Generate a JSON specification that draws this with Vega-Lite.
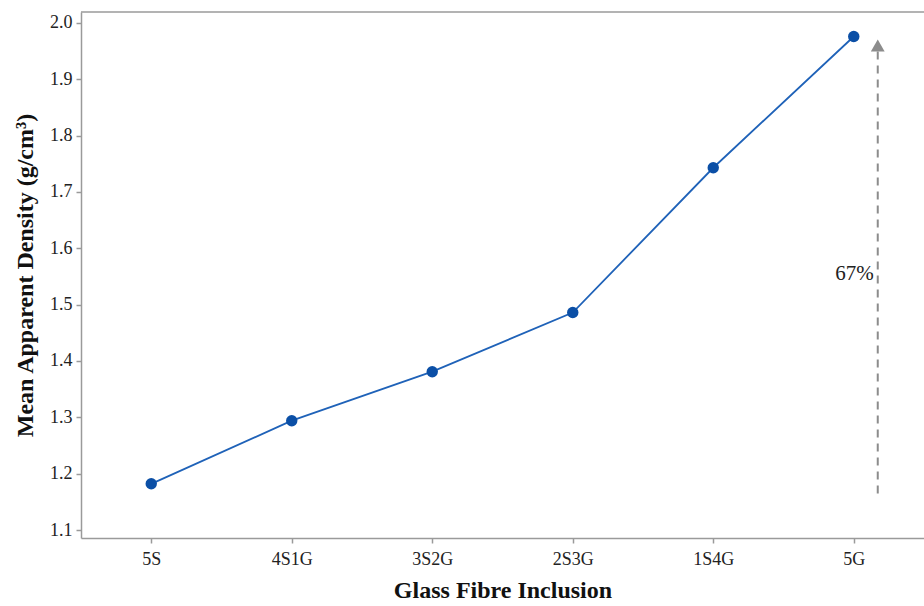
{
  "$schema": "https://vega.github.io/schema/vega-lite/v6.json",
  "width": 843,
  "height": 526,
  "autosize": {"type": "none"},
  "padding": {"left": 81, "top": 12, "right": 0, "bottom": 68},
  "background": "white",
  "config": {
    "view": {"stroke": null},
    "font": "Liberation Serif"
  },
  "datasets": {
    "main": [
      {"mix": "5S", "density": 1.182},
      {"mix": "4S1G", "density": 1.294},
      {"mix": "3S2G", "density": 1.381},
      {"mix": "2S3G", "density": 1.486},
      {"mix": "1S4G", "density": 1.743},
      {"mix": "5G", "density": 1.976}
    ],
    "arrow": [
      {"mix": "5G", "y0": 1.165, "y1": 1.95}
    ],
    "head": [
      {"mix": "5G", "y": 1.96}
    ],
    "label": [
      {"mix": "5G", "y": 1.555, "text": "67%"}
    ],
    "frame": [
      {"top": 2.0195}
    ]
  },
  "layer": [
    {
      "data": {"name": "frame"},
      "mark": {"type": "rule", "color": "#9a9a9a", "strokeWidth": 1.5},
      "encoding": {
        "y": {"field": "top", "type": "quantitative"}
      }
    },
    {
      "data": {"name": "main"},
      "mark": {"type": "line", "color": "#1f62b8", "strokeWidth": 1.8},
      "encoding": {
        "x": {
          "field": "mix", "type": "ordinal", "sort": null,
          "scale": {"type": "point", "padding": 0.5},
          "axis": {
            "title": "Glass Fibre Inclusion",
            "titleFont": "Liberation Serif", "titleFontSize": 24, "titleFontWeight": "bold", "titleColor": "#111",
            "titlePadding": 10,
            "labelFont": "Liberation Serif", "labelFontSize": 18, "labelColor": "#222", "labelPadding": 7,
            "labelAngle": 0,
            "domainColor": "#9a9a9a", "domainWidth": 1.5,
            "tickColor": "#9a9a9a", "tickSize": 5, "tickWidth": 1.5,
            "grid": false
          }
        },
        "y": {
          "field": "density", "type": "quantitative",
          "scale": {"domain": [1.0858, 2.0195], "nice": false, "zero": false},
          "axis": {
            "title": "Mean Apparent Density (g/cm³)",
            "values": [1.1, 1.2, 1.3, 1.4, 1.5, 1.6, 1.7, 1.8, 1.9, 2.0],
            "format": ".1f",
            "titleFont": "Liberation Serif", "titleFontSize": 24, "titleFontWeight": "bold", "titleColor": "#111",
            "titlePadding": 12,
            "labelFont": "Liberation Serif", "labelFontSize": 18, "labelColor": "#222", "labelPadding": 4,
            "domainColor": "#9a9a9a", "domainWidth": 1.5,
            "tickColor": "#9a9a9a", "tickSize": 5, "tickWidth": 1.5,
            "grid": false
          }
        }
      }
    },
    {
      "data": {"name": "main"},
      "mark": {"type": "point", "filled": true, "color": "#0b4fa6", "size": 130, "opacity": 1},
      "encoding": {
        "x": {"field": "mix", "type": "ordinal", "sort": null},
        "y": {"field": "density", "type": "quantitative"}
      }
    },
    {
      "data": {"name": "arrow"},
      "mark": {"type": "rule", "color": "#8c8c8c", "strokeWidth": 2, "strokeDash": [8, 6], "xOffset": 24},
      "encoding": {
        "x": {"field": "mix", "type": "ordinal", "sort": null},
        "y": {"field": "y0", "type": "quantitative"},
        "y2": {"field": "y1"}
      }
    },
    {
      "data": {"name": "head"},
      "mark": {"type": "point", "shape": "triangle-up", "filled": true, "color": "#8c8c8c", "size": 190, "opacity": 1, "xOffset": 24},
      "encoding": {
        "x": {"field": "mix", "type": "ordinal", "sort": null},
        "y": {"field": "y", "type": "quantitative"}
      }
    },
    {
      "data": {"name": "label"},
      "mark": {"type": "text", "align": "right", "baseline": "middle", "font": "Liberation Serif", "fontSize": 21, "color": "#222", "xOffset": 20},
      "encoding": {
        "x": {"field": "mix", "type": "ordinal", "sort": null},
        "y": {"field": "y", "type": "quantitative"},
        "text": {"field": "text"}
      }
    }
  ]
}
